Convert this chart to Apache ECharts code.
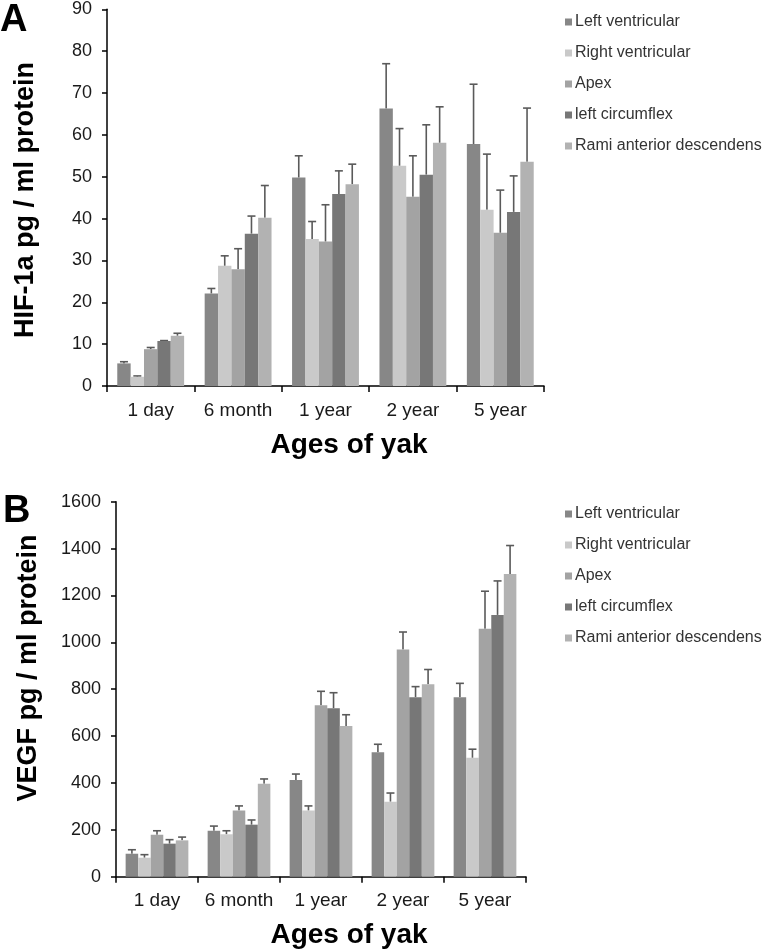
<!DOCTYPE html>
<html>
<head>
<meta charset="utf-8">
<script src="https://cdn.jsdelivr.net/npm/echarts@6/dist/echarts.min.js"></script>
<style>html,body{margin:0;padding:0;background:#fff}#c{width:771px;height:952px}</style>
</head>
<body>
<div id="c"></div>
<script>
const categories = ['1 day', '6 month', '1 year', '2 year', '5 year'];
const seriesNames = ['Left ventricular', 'Right ventricular', 'Apex', 'left circumflex', 'Rami anterior descendens'];
const colors = ['#878787', '#c9c9c9', '#a3a3a3', '#777777', '#b2b2b2'];

// Panel A: HIF-1a
const hifLV = [5.4, 22.1, 49.8, 66.3, 57.8];
const hifRV = [2.2, 28.7, 35.1, 52.6, 42.1];
const hifApex = [8.8, 27.9, 34.5, 45.2, 36.6];
const hifLC = [10.75, 36.4, 45.9, 50.5, 41.6];
const hifRAD = [12.0, 40.2, 48.2, 58.1, 53.6];
const hifLVErr = [0.4, 1.2, 5.2, 10.7, 14.3];
const hifRVErr = [0.2, 2.4, 4.2, 8.9, 13.3];
const hifApexErr = [0.4, 4.9, 8.8, 9.8, 10.2];
const hifLCErr = [0.1, 4.2, 5.5, 11.9, 8.6];
const hifRADErr = [0.6, 7.7, 4.8, 8.6, 12.8];

// Panel B: VEGF
const vegfLV = [98, 196, 413, 531, 766];
const vegfRV = [81, 181, 282, 320, 507];
const vegfApex = [179, 282, 731, 969, 1058];
const vegfLC = [141, 222, 719, 766, 1117];
const vegfRAD = [155, 397, 643, 821, 1292];
const vegfLVErr = [17, 20, 25, 34, 59];
const vegfRVErr = [13, 15, 20, 37, 37];
const vegfApexErr = [17, 20, 60, 75, 160];
const vegfLCErr = [17, 20, 66, 45, 145];
const vegfRADErr = [14, 20, 48, 63, 121];

const hifTicks = ['0','10','20','30','40','50','60','70','80','90'];
const vegfTicks = ['0','200','400','600','800','1000','1200','1400','1600'];

const hifVals = [hifLV, hifRV, hifApex, hifLC, hifRAD];
const hifErrs = [hifLVErr, hifRVErr, hifApexErr, hifLCErr, hifRADErr];
const vegfVals = [vegfLV, vegfRV, vegfApex, vegfLC, vegfRAD];
const vegfErrs = [vegfLVErr, vegfRVErr, vegfApexErr, vegfLCErr, vegfRADErr];

const FONT = '"Liberation Sans", Arial, sans-serif';
const GAP = 0.235;

function xAxisCfg(gi) {
  return {
    type: 'category', gridIndex: gi, data: categories,
    axisLine: { lineStyle: { color: '#000', width: 1.5 } },
    axisTick: { show: true, length: 6, interval: 0, lineStyle: { color: '#000', width: 1.5 } },
    axisLabel: { color: '#1a1a1a', fontSize: 19, fontFamily: FONT, margin: 15, interval: 0, hideOverlap: false }
  };
}
function yAxisCfg(gi, max, interval, ticks) {
  return {
    type: 'value', gridIndex: gi, min: 0, max: max, interval: interval,
    splitLine: { show: false },
    axisLine: { show: true, lineStyle: { color: '#000', width: 1.5 } },
    axisTick: { show: true, length: 5, lineStyle: { color: '#000', width: 1.5 } },
    axisLabel: { color: '#1a1a1a', fontSize: 18, fontFamily: FONT, margin: 15,
      formatter: function (v) { return ticks[Math.round(v / interval)]; } }
  };
}

function errSeries(gi, si, vals, errs) {
  return {
    type: 'custom', xAxisIndex: gi, yAxisIndex: gi, z: 1, silent: true,
    data: categories.map((c, i) => [i, vals[i], vals[i] + errs[i]]),
    renderItem: function (params, api) {
      const ci = api.value(0);
      const top = api.coord([ci, api.value(2)]);
      const base = api.coord([ci, api.value(1)]);
      const band = api.size([1, 0])[0];
      const w = band * (1 - GAP) / 5;
      const x = top[0] - band * (1 - GAP) / 2 + w * (si + 0.5);
      const style = { stroke: '#5a5a5a', lineWidth: 1.6 };
      return {
        type: 'group',
        children: [
          { type: 'line', shape: { x1: x, y1: base[1], x2: x, y2: top[1] }, style: style },
          { type: 'line', shape: { x1: x - 4, y1: top[1], x2: x + 4, y2: top[1] }, style: style }
        ]
      };
    }
  };
}

const series = [];
[[0, hifVals, hifErrs], [1, vegfVals, vegfErrs]].forEach(([gi, vals, errs]) => {
  seriesNames.forEach((n, si) => {
    series.push({
      name: n, type: 'bar', xAxisIndex: gi, yAxisIndex: gi,
      data: vals[si], barGap: '0%', barCategoryGap: (GAP * 100) + '%',
      itemStyle: { color: colors[si] }, z: 2
    });
  });
  seriesNames.forEach((n, si) => series.push(errSeries(gi, si, vals[si], errs[si])));
});

function legendCfg(top) {
  return {
    orient: 'vertical', left: 560, top: top, itemWidth: 7, itemHeight: 7, itemGap: 15,
    icon: 'rect', data: seriesNames,
    textStyle: { color: '#333', fontSize: 16, fontFamily: FONT, padding: [0, 0, 0, -2] }
  };
}

const chart = echarts.init(document.getElementById('c'));
chart.setOption({
  animation: false,
  backgroundColor: '#fff',
  color: colors,
  grid: [
    { left: 107, top: 9.3, width: 437, height: 376.7 },
    { left: 116, top: 501.7, width: 410, height: 375 }
  ],
  xAxis: [xAxisCfg(0), xAxisCfg(1)],
  yAxis: [yAxisCfg(0, 90, 10, hifTicks), yAxisCfg(1, 1600, 200, vegfTicks)],
  legend: [legendCfg(9), legendCfg(501)],
  series: series,
  graphic: [
    { type: 'text', left: 0, top: 2, style: { text: 'A', font: 'bold 38px ' + FONT, fill: '#000' } },
    { type: 'text', left: 3, top: 493, style: { text: 'B', font: 'bold 38px ' + FONT, fill: '#000' } },
    { type: 'text', x: 26, y: 200, rotation: Math.PI / 2, style: { text: 'HIF-1a pg / ml protein', font: 'bold 27px ' + FONT, fill: '#000', align: 'center', verticalAlign: 'middle' } },
    { type: 'text', x: 29, y: 668, rotation: Math.PI / 2, style: { text: 'VEGF pg / ml protein', font: 'bold 27px ' + FONT, fill: '#000', align: 'center', verticalAlign: 'middle' } },
    { type: 'text', x: 349, y: 445, style: { text: 'Ages of yak', font: 'bold 28px ' + FONT, fill: '#000', align: 'center', verticalAlign: 'middle' } },
    { type: 'text', x: 349, y: 935, style: { text: 'Ages of yak', font: 'bold 28px ' + FONT, fill: '#000', align: 'center', verticalAlign: 'middle' } }
  ]
});
</script>
</body>
</html>
